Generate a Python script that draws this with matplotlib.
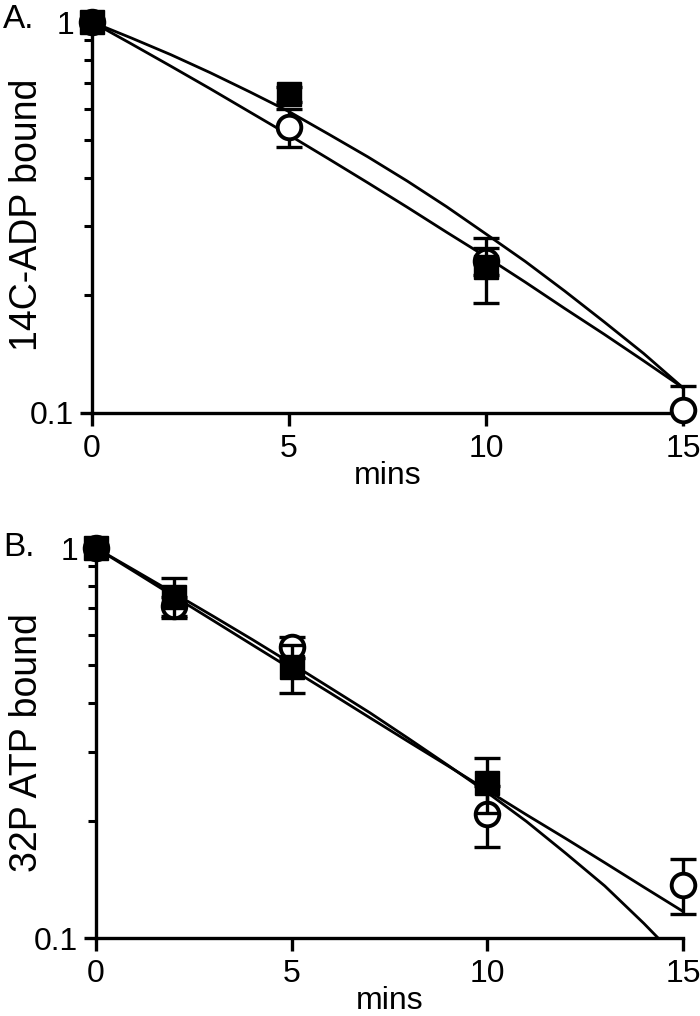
import numpy as np
import matplotlib
matplotlib.use("Agg")
import matplotlib.pyplot as plt
from matplotlib.ticker import FixedLocator, NullFormatter

plt.rcParams['font.family'] = ['Liberation Sans', 'DejaVu Sans']

# Panel A: 14C-ADP bound
a_time = [0, 5, 10, 15]
a_sq = [1.0, 0.653, 0.236, np.nan]
a_sq_lo = [0.0, 0.03, 0.045, 0.0]
a_sq_hi = [0.0, 0.03, 0.045, 0.0]
a_circ = [1.0, 0.54, 0.245, 0.102]
a_circ_lo = [0.0, 0.06, 0.02, 0.0]
a_circ_hi = [0.0, 0.06, 0.02, 0.015]

# Panel B: 32P ATP bound
b_time = [0, 2, 5, 10, 15]
b_sq = [1.0, 0.75, 0.494, 0.249, np.nan]
b_sq_lo = [0.0, 0.09, 0.07, 0.04, 0.0]
b_sq_hi = [0.0, 0.09, 0.07, 0.04, 0.0]
b_circ = [1.0, 0.71, 0.557, 0.208, 0.137]
b_circ_lo = [0.0, 0.04, 0.035, 0.037, 0.022]
b_circ_hi = [0.0, 0.04, 0.035, 0.037, 0.022]

# fitted curves
fit_time = list(range(16))
a_fit_sq = [1.0, 0.910, 0.825, 0.742, 0.663, 0.590, 0.517, 0.452, 0.392,
            0.337, 0.287, 0.244, 0.205, 0.171, 0.142, 0.116]
a_fit_circ = [1.0, 0.879, 0.771, 0.675, 0.589, 0.514, 0.447, 0.388, 0.336,
              0.290, 0.251, 0.216, 0.185, 0.159, 0.136, 0.116]
b_fit_sq = [1.0, 0.875, 0.765, 0.668, 0.582, 0.505, 0.437, 0.378, 0.324,
            0.277, 0.236, 0.199, 0.165, 0.136, 0.109, 0.086]
b_fit_circ = [1.0, 0.867, 0.751, 0.651, 0.564, 0.489, 0.424, 0.367, 0.318,
              0.276, 0.239, 0.207, 0.180, 0.156, 0.135, 0.117]

FS = 23
LW = 2.4


def draw_panel(ax, t, sq, sq_lo, sq_hi, circ, circ_lo, circ_hi, fit_sq, fit_circ):
    ax.plot(fit_time, fit_sq, color='black', lw=2.0, zorder=2)
    ax.plot(fit_time, fit_circ, color='black', lw=2.0, zorder=2)

    ax.errorbar(t, circ, yerr=[circ_lo, circ_hi], fmt='none', ecolor='black',
                elinewidth=LW, capsize=9.5, capthick=LW, zorder=3, clip_on=False)
    ax.plot(t, circ, 'o', ms=17, mfc='white', mec='black', mew=2.8,
            zorder=4, clip_on=False)
    ax.errorbar(t, sq, yerr=[sq_lo, sq_hi], fmt='none', ecolor='black',
                elinewidth=LW, capsize=9.5, capthick=LW, zorder=5, clip_on=False)
    ax.plot(t, sq, 's', ms=17, color='black', zorder=6, clip_on=False)

    ax.set_yscale('log')
    ax.set_ylim(0.1, 1)
    ax.set_xlim(0, 15)
    ax.yaxis.set_major_locator(FixedLocator([0.1, 1]))
    ax.set_yticklabels(['0.1', '1'])
    ax.yaxis.set_minor_locator(FixedLocator([0.2, 0.3, 0.4, 0.5, 0.6, 0.7, 0.8, 0.9]))
    ax.yaxis.set_minor_formatter(NullFormatter())
    ax.set_xticks([0, 5, 10, 15])

    for side in ['top', 'right']:
        ax.spines[side].set_visible(False)
    for side in ['left', 'bottom']:
        ax.spines[side].set_linewidth(LW)
    ax.tick_params(axis='both', which='major', width=LW, length=9,
                   labelsize=FS, pad=4)
    ax.tick_params(axis='x', which='major', pad=6)
    ax.tick_params(axis='y', which='minor', width=2.2, length=6)
    ax.set_xlabel('mins', fontsize=FS, labelpad=-2)


fig = plt.figure(figsize=(7, 10.16), dpi=100)

ax1 = fig.add_axes([92 / 700, 1 - 413 / 1016, 591 / 700, 391 / 1016])
draw_panel(ax1, a_time, a_sq, a_sq_lo, a_sq_hi, a_circ, a_circ_lo, a_circ_hi,
           a_fit_sq, a_fit_circ)

ax2 = fig.add_axes([96 / 700, 1 - 938 / 1016, 587 / 700, 390 / 1016])
draw_panel(ax2, b_time, b_sq, b_sq_lo, b_sq_hi, b_circ, b_circ_lo, b_circ_hi,
           b_fit_sq, b_fit_circ)

fig.text(27 / 700, 1 - 215 / 1016, '14C-ADP bound', rotation=90,
         ha='center', va='center', fontsize=27)
fig.text(27 / 700, 1 - 743 / 1016, '32P ATP bound', rotation=90,
         ha='center', va='center', fontsize=27)
fig.text(3 / 700, 1 - 20 / 1016, 'A.', ha='left', va='center', fontsize=24)
fig.text(3 / 700, 1 - 548 / 1016, 'B.', ha='left', va='center', fontsize=24)

fig.savefig('out.png', dpi=100)
